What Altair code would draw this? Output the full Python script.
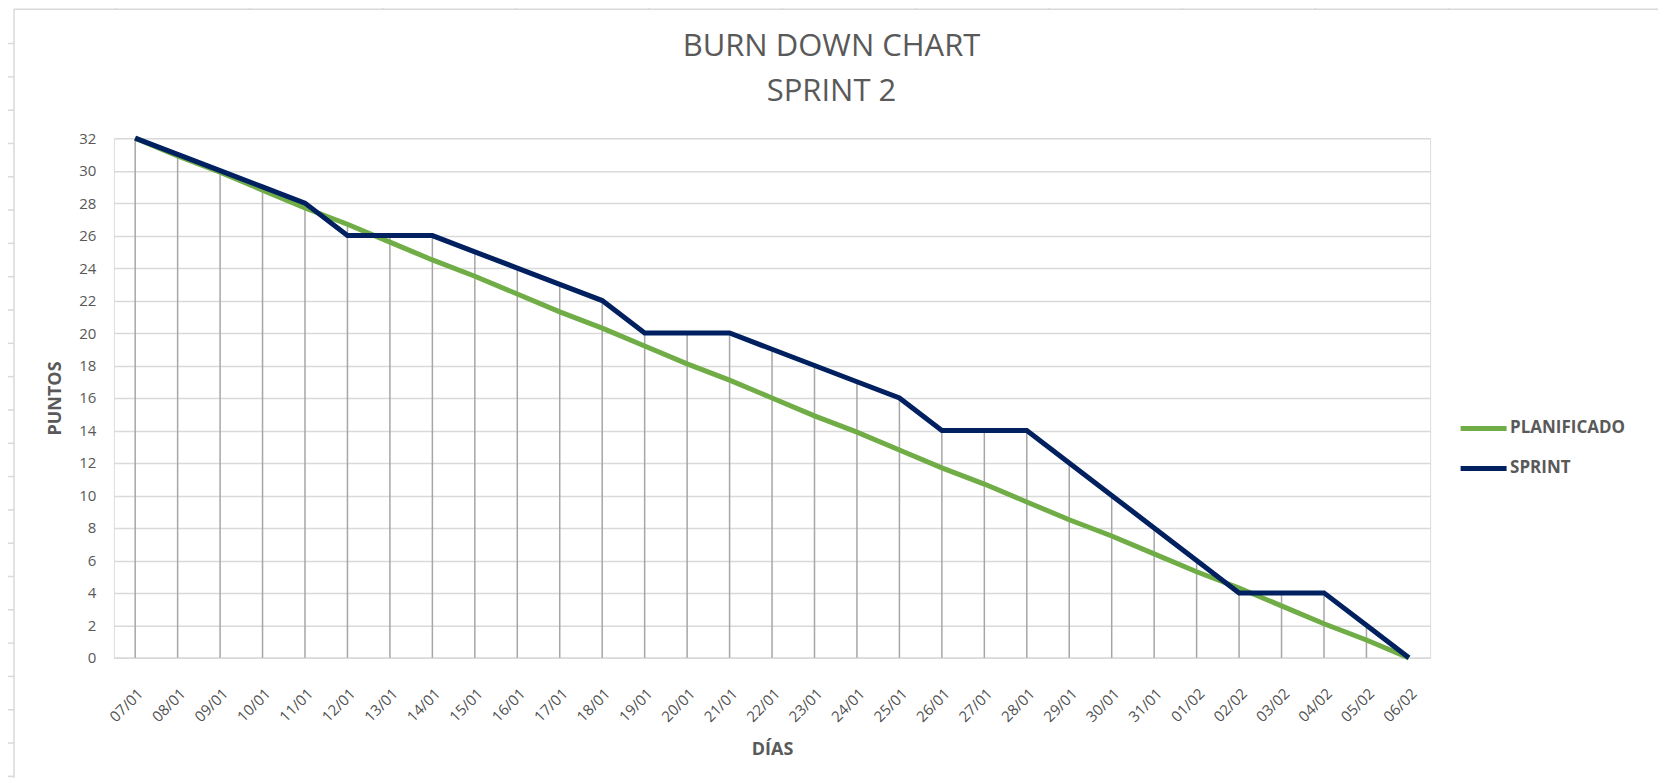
import altair as alt
import pandas as pd

dias = ["07/01","08/01","09/01","10/01","11/01","12/01","13/01","14/01","15/01","16/01",
        "17/01","18/01","19/01","20/01","21/01","22/01","23/01","24/01","25/01","26/01",
        "27/01","28/01","29/01","30/01","31/01","01/02","02/02","03/02","04/02","05/02","06/02"]
planificado = [32, 30.9, 29.9, 28.8, 27.7, 26.7, 25.6, 24.5, 23.5, 22.4,
               21.3, 20.3, 19.2, 18.1, 17.1, 16.0, 14.9, 13.9, 12.8, 11.7,
               10.7, 9.6, 8.5, 7.5, 6.4, 5.3, 4.3, 3.2, 2.1, 1.1, 0]
sprint = [32, 31, 30, 29, 28, 26, 26, 26, 25, 24,
          23, 22, 20, 20, 20, 19, 18, 17, 16, 14,
          14, 14, 12, 10, 8, 6, 4, 4, 4, 2, 0]
series = ["PLANIFICADO", "SPRINT"]
colores = ["#70AD47", "#002060"]
y_ticks = list(range(0, 33, 2))
titulo = ["BURN DOWN CHART", "SPRINT 2"]

long_df = pd.DataFrame({
    "DIA": dias * 2,
    "PUNTOS": planificado + sprint,
    "SERIE": ["PLANIFICADO"] * len(dias) + ["SPRINT"] * len(dias),
    "ORDEN": [0] * len(dias) + [1] * len(dias),
})
drop_df = pd.DataFrame({"DIA": dias, "TOP": [max(a, b) for a, b in zip(planificado, sprint)]})

FONT = "Open Sans"
GREY = "#595959"
W, H = 1317, 520

x_scale = alt.Scale(type="point", padding=0.5)
x_axis = alt.Axis(labelAngle=-45, grid=False, ticks=False, domain=True,
                  domainColor="#D9D9D9", domainWidth=1.5,
                  labelFont=FONT, labelFontSize=15, labelColor="#505050",
                  labelPadding=28, labelOverlap=False,
                  titleFont=FONT, titleFontSize=18, titleFontWeight="bold",
                  titleColor=GREY, titlePadding=16)
y_scale = alt.Scale(domain=[0, 32], nice=False, zero=True)
y_axis = alt.Axis(values=y_ticks, grid=True, gridColor="#D9D9D9", gridWidth=1.5,
                  domain=False, ticks=False, labelOverlap=False,
                  labelFont=FONT, labelFontSize=15, labelColor=GREY,
                  labelPadding=18,
                  titleFont=FONT, titleFontSize=18, titleFontWeight="bold",
                  titleColor=GREY, titlePadding=14)

drops = alt.Chart(drop_df).mark_rule(color="#A6A6A6", strokeWidth=1.5).encode(
    x=alt.X("DIA:N", sort=dias, title="DÍAS", scale=x_scale, axis=x_axis),
    y=alt.Y("TOP:Q", title="PUNTOS", scale=y_scale, axis=y_axis),
    y2=alt.datum(0),
)

lines = alt.Chart(long_df).mark_line(strokeWidth=5, strokeCap="butt", strokeJoin="miter").encode(
    x=alt.X("DIA:N", sort=dias, title="DÍAS", scale=x_scale, axis=x_axis),
    y=alt.Y("PUNTOS:Q", title="PUNTOS", scale=y_scale, axis=y_axis),
    color=alt.Color("SERIE:N", scale=alt.Scale(domain=series, range=colores),
                    legend=alt.Legend(title=None, orient="none", legendX=1348, legendY=268,
                                      symbolType="M-1.15,0H1.15", symbolSize=1600,
                                      symbolStrokeWidth=5, symbolFillColor="transparent",
                                      labelFont=FONT, labelFontSize=17, labelFontWeight="bold",
                                      labelColor=GREY, labelOffset=4, rowPadding=7)),
    order=alt.Order("ORDEN:Q"),
    detail="SERIE:N",
)

# sheet frame around the chart (Excel screenshot border with grid ticks)
one = pd.DataFrame({"k": [0]})
border = alt.Chart(one).mark_rule(color="#D9D9D9", strokeWidth=1.5)
left_b = border.encode(x=alt.value(-100), y=alt.value(-129), y2=alt.value(640))
top_b = border.encode(x=alt.value(-100), x2=alt.value(1546), y=alt.value(-129))
right_b = border.encode(x=alt.value(1546), y=alt.value(-129), y2=alt.value(640))
row_ticks = pd.DataFrame({"py": [-128 + 33.33 * k for k in range(1, 24)]})
col_ticks = pd.DataFrame({"px": [2.4 + 133.3 * k for k in range(0, 11)]})
left_t = alt.Chart(row_ticks).mark_rule(color="#D9D9D9", strokeWidth=1.5).encode(
    y=alt.Y("py:Q", scale=None), x=alt.value(-106), x2=alt.value(-100))
right_t = alt.Chart(row_ticks).mark_rule(color="#D9D9D9", strokeWidth=1.5).encode(
    y=alt.Y("py:Q", scale=None), x=alt.value(1546), x2=alt.value(1552))
top_t = alt.Chart(col_ticks).mark_rule(color="#D9D9D9", strokeWidth=1.5).encode(
    x=alt.X("px:Q", scale=None), y=alt.value(-135), y2=alt.value(-129))

title_base = alt.Chart(one).mark_text(font=FONT, fontSize=31, color=GREY,
                                      align="center", baseline="middle")
t1 = title_base.encode(text=alt.value(titulo[0]), x=alt.value(718), y=alt.value(-91))
t2 = title_base.encode(text=alt.value(titulo[1]), x=alt.value(718), y=alt.value(-46))

chart = alt.layer(left_b, top_b, right_b, left_t, right_t, top_t, t1, t2, drops, lines).properties(
    width=W, height=H,
    autosize=alt.AutoSizeParams(type="none"),
    padding={"left": 106, "top": 130, "right": 228, "bottom": 120},
).configure_view(stroke=None).configure(background="white")

chart.save("out.html", embed_options={"renderer": "svg", "actions": False})
